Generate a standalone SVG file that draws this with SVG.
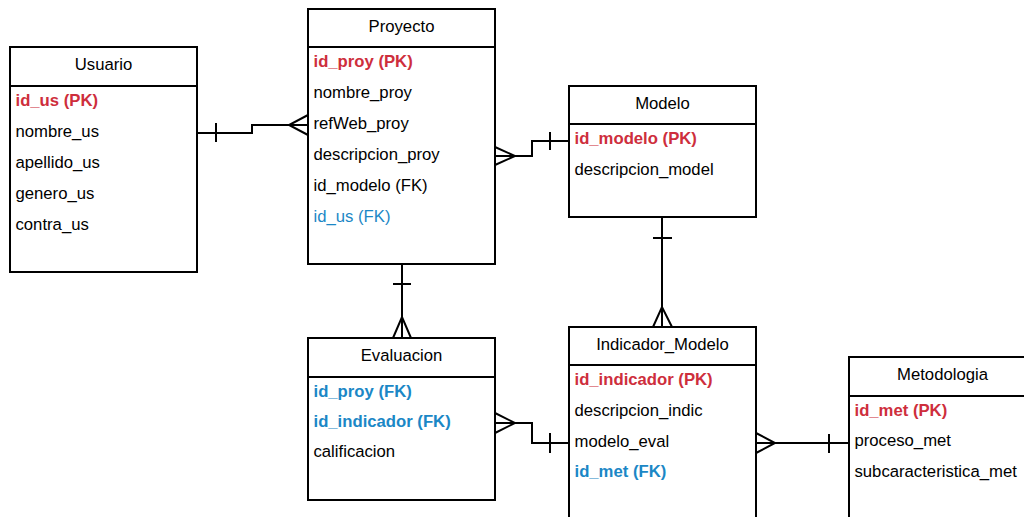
<svg xmlns="http://www.w3.org/2000/svg" width="1024" height="517" viewBox="0 0 1024 517">
  <style>
    .box { fill: #ffffff; stroke: #000000; stroke-width: 2; }
    .sep { stroke: #000000; stroke-width: 2; }
    .edge { fill: none; stroke: #000000; stroke-width: 2; }
    text { font-family: "Liberation Sans", Arial, sans-serif; font-size: 16.7px; fill: #000000; }
    .title { text-anchor: middle; }
    .pk { fill: #CE2E3C; font-weight: bold; }
    .fk { fill: #1B87C6; }
    .fkb { fill: #1B87C6; font-weight: bold; }
  </style>
  <rect width="1024" height="517" fill="#ffffff"/>

  <!-- relationships -->
  <g id="connectors">
    <!-- Usuario 1 : N Proyecto -->
    <path class="edge" d="M197,133 H252 V125 H308"/>
    <path class="edge" d="M216,123 V142"/>
    <path class="edge" d="M308,115 L289,125 L308,135"/>
    <!-- Modelo 1 : N Proyecto -->
    <path class="edge" d="M495,156 H532 V141 H569"/>
    <path class="edge" d="M550,132 V150"/>
    <path class="edge" d="M495,147 L515,156 L495,165"/>
    <!-- Proyecto 1 : N Evaluacion -->
    <path class="edge" d="M402,264 V338"/>
    <path class="edge" d="M393,284 H411"/>
    <path class="edge" d="M393,338 L402,317 L411,338"/>
    <!-- Modelo 1 : N Indicador_Modelo -->
    <path class="edge" d="M662,217 V327"/>
    <path class="edge" d="M653,238 H672"/>
    <path class="edge" d="M653,327 L662,307 L672,327"/>
    <!-- Indicador_Modelo 1 : N Evaluacion -->
    <path class="edge" d="M495,423 H532 V443 H569"/>
    <path class="edge" d="M550,433 V453"/>
    <path class="edge" d="M495,413 L515,423 L495,433"/>
    <!-- Metodologia 1 : N Indicador_Modelo -->
    <path class="edge" d="M756,443 H849"/>
    <path class="edge" d="M829,434 V453"/>
    <path class="edge" d="M756,433 L775,443 L756,453"/>
  </g>

  <g id="usuario">
    <rect class="box" x="10" y="47" width="187" height="225"/>
    <line class="sep" x1="10" y1="86" x2="197" y2="86"/>
    <text class="title" x="103.5" y="70">Usuario</text>
    <text class="pk" x="15.5" y="105.5">id_us (PK)</text>
    <text x="15.5" y="136.5">nombre_us</text>
    <text x="15.5" y="167.5">apellido_us</text>
    <text x="15.5" y="198.5">genero_us</text>
    <text x="15.5" y="229.5">contra_us</text>
  </g>

  <g id="proyecto">
    <rect class="box" x="308" y="9" width="187" height="255"/>
    <line class="sep" x1="308" y1="47" x2="495" y2="47"/>
    <text class="title" x="401.5" y="32">Proyecto</text>
    <text class="pk" x="313.5" y="67">id_proy (PK)</text>
    <text x="313.5" y="98">nombre_proy</text>
    <text x="313.5" y="129">refWeb_proy</text>
    <text x="313.5" y="160">descripcion_proy</text>
    <text x="313.5" y="191">id_modelo (FK)</text>
    <text class="fk" x="313.5" y="222">id_us (FK)</text>
  </g>

  <g id="modelo">
    <rect class="box" x="569" y="86" width="187" height="131"/>
    <line class="sep" x1="569" y1="124" x2="756" y2="124"/>
    <text class="title" x="662.5" y="109">Modelo</text>
    <text class="pk" x="574.5" y="144">id_modelo (PK)</text>
    <text x="574.5" y="175">descripcion_model</text>
  </g>

  <g id="evaluacion">
    <rect class="box" x="308" y="338" width="187" height="162"/>
    <line class="sep" x1="308" y1="377" x2="495" y2="377"/>
    <text class="title" x="401.5" y="361">Evaluacion</text>
    <text class="fkb" x="313.5" y="397">id_proy (FK)</text>
    <text class="fkb" x="313.5" y="427">id_indicador (FK)</text>
    <text x="313.5" y="457">calificacion</text>
  </g>

  <g id="indicador_modelo">
    <rect class="box" x="569" y="327" width="187" height="200"/>
    <line class="sep" x1="569" y1="365" x2="756" y2="365"/>
    <text class="title" x="662.5" y="350">Indicador_Modelo</text>
    <text class="pk" x="574.5" y="384.5">id_indicador (PK)</text>
    <text x="574.5" y="415.5">descripcion_indic</text>
    <text x="574.5" y="446.5">modelo_eval</text>
    <text class="fkb" x="574.5" y="477">id_met (FK)</text>
  </g>

  <g id="metodologia">
    <rect class="box" x="849" y="357" width="187" height="170"/>
    <line class="sep" x1="849" y1="396" x2="1036" y2="396"/>
    <text class="title" x="942.5" y="380">Metodologia</text>
    <text class="pk" x="854.5" y="415.5">id_met (PK)</text>
    <text x="854.5" y="446">proceso_met</text>
    <text x="854.5" y="477">subcaracteristica_met</text>
  </g>
</svg>
